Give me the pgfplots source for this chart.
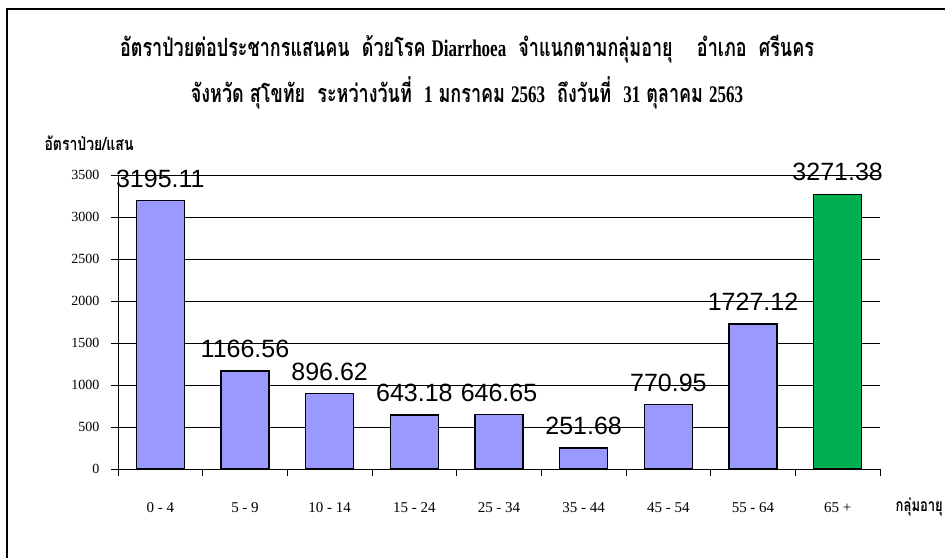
\documentclass[border=0pt]{standalone}
\usepackage{fontspec}
\setmainfont{Liberation Serif}
\newfontfamily\thaifont[Script=Thai]{Loma}
\newfontfamily\arial{Liberation Sans}
\usepackage{pgfplots}
\pgfplotsset{compat=1.18}
\definecolor{barblue}{HTML}{9999FF}
\definecolor{bargreen}{HTML}{00B050}
\begin{document}
\begin{tikzpicture}[x=1pt,y=1pt]
\path[use as bounding box] (0,0) rectangle (945,558);
\draw[line width=1.2pt] (7,0) -- (7,549) -- (945,549);
\node[font=\thaifont\bfseries\fontsize{18}{18}\selectfont] at (467,509) {\scalebox{1}[1.4]{อัตราป่วยต่อประชากรแสนคน\ \ ด้วยโรค {\rmfamily\bfseries\fontsize{17}{17}\selectfont Diarrhoea}\ \ จำแนกตามกลุ่มอายุ\ \ \ \ อำเภอ\ \ ศรีนคร}};
\node[font=\thaifont\bfseries\fontsize{18}{18}\selectfont] at (467,465) {\scalebox{1}[1.4]{จังหวัด สุโขทัย\ \ ระหว่างวันที่\ \ {\rmfamily\bfseries\fontsize{17}{17}\selectfont 1} มกราคม {\rmfamily\bfseries\fontsize{17}{17}\selectfont 2563}\ \ ถึงวันที่\ \ {\rmfamily\bfseries\fontsize{17}{17}\selectfont 31} ตุลาคม {\rmfamily\bfseries\fontsize{17}{17}\selectfont 2563}}};
\node[font=\thaifont\bfseries\fontsize{14}{14}\selectfont, anchor=west] at (41,415) {\scalebox{1}[1.3]{อัตราป่วย/แสน}};
\node[font=\thaifont\bfseries\fontsize{13}{13}\selectfont, anchor=east, inner sep=1pt] at (944,51) {\scalebox{1}[1.35]{กลุ่มอายุ}};
\begin{axis}[
  at={(118pt,89pt)}, anchor=south west,
  scale only axis, width=762pt, height=294pt,
  xmin=-0.5, xmax=8.5, ymin=0, ymax=3500,
  ybar, bar width=48pt,
  axis x line*=bottom, axis y line*=left,
  axis line style={black, line width=0.8pt},
  ytick={0,500,...,3500},
  ymajorgrids, grid style={black, line width=0.5pt},
  tick align=outside, major tick length=7pt,
  tick style={black, line width=0.8pt},
  /pgf/number format/assume math mode=true,
  yticklabel style={font=\fontsize{14}{14}\selectfont, xshift=-8pt},
  /pgf/number format/1000 sep={},
  xtick={-0.5,0.5,...,8.5}, xticklabels={},
  extra x ticks={0,1,2,3,4,5,6,7,8},
  extra x tick labels={0 - 4,5 - 9,10 - 14,15 - 24,25 - 34,35 - 44,45 - 54,55 - 64,65 +},
  extra x tick style={major tick length=0pt, xticklabel style={font=\fontsize{15}{15}\selectfont, yshift=-30pt}},
  point meta=explicit symbolic,
  nodes near coords,
  nodes near coords style={font=\arial\fontsize{25}{25}\selectfont, yshift=9pt, black},
  clip=false,
]
\addplot[bar shift=0pt, fill=barblue, draw=black, line width=1.3pt] coordinates {
 (0,3195.11) [3195.11]
 (1,1166.56) [1166.56]
 (2,896.62) [896.62]
 (3,643.18) [643.18]
 (4,646.65) [646.65]
 (5,251.68) [251.68]
 (6,770.95) [770.95]
 (7,1727.12) [1727.12]
};
\addplot[bar shift=0pt, fill=bargreen, draw=black, line width=1.3pt] coordinates {
 (8,3271.38) [3271.38]
};
\end{axis}
\end{tikzpicture}
\end{document}
